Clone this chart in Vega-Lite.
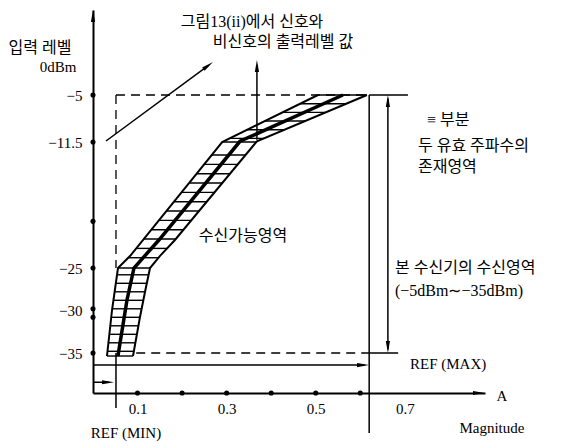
{
  "$schema": "https://vega.github.io/schema/vega-lite/v6.json",
  "width": 392,
  "height": 383,
  "autosize": {"type": "none"},
  "padding": {"left": 93, "top": 10, "right": 76, "bottom": 55},
  "background": "white",
  "config": {"view": {"stroke": null}},
  "datasets": {
    "dashed": [
      {"x": 0.0516, "y": -5, "x2": 0.62, "y2": -5},
      {"x": 0.0516, "y": -5, "x2": 0.0516, "y2": -25},
      {"x": 0.097, "y": -35, "x2": 0.62, "y2": -35}
    ],
    "solid": [
      {"x": 0.62, "y": -5, "x2": 0.62, "y2": -44.3},
      {"x": 0.62, "y": -5, "x2": 0.707, "y2": -5},
      {"x": 0.662, "y": -5.5, "x2": 0.662, "y2": -34.6},
      {"x": 0.62, "y": -35, "x2": 0.685, "y2": -35},
      {"x": 0, "y": -36.4, "x2": 0.61, "y2": -36.4},
      {"x": 0, "y": -38.4, "x2": 0.035, "y2": -38.4},
      {"x": 0.0516, "y": -35, "x2": 0.0516, "y2": -41.4},
      {"x": 0.368, "y": -11.2, "x2": 0.368, "y2": -1.5},
      {"x": 0.0292, "y": -11.36, "x2": 0.2586, "y2": -1.58}
    ],
    "rungs": [
      {"y": -5, "x": 0.505, "x2": 0.615},
      {"y": -6.2, "x": 0.4653, "x2": 0.5687},
      {"y": -7.4, "x": 0.4256, "x2": 0.5224},
      {"y": -8.6, "x": 0.3859, "x2": 0.4761},
      {"y": -9.8, "x": 0.3462, "x2": 0.4298},
      {"y": -11.0, "x": 0.3065, "x2": 0.3835},
      {"y": -11.5, "x": 0.29, "x2": 0.3663},
      {"y": -12.9, "x": 0.2663, "x2": 0.342},
      {"y": -13.9, "x": 0.2494, "x2": 0.3246},
      {"y": -14.9, "x": 0.2324, "x2": 0.3073},
      {"y": -15.9, "x": 0.2155, "x2": 0.2899},
      {"y": -16.9, "x": 0.1986, "x2": 0.2725},
      {"y": -17.9, "x": 0.1816, "x2": 0.2552},
      {"y": -18.9, "x": 0.1647, "x2": 0.2378},
      {"y": -19.9, "x": 0.1478, "x2": 0.2205},
      {"y": -20.9, "x": 0.1309, "x2": 0.2031},
      {"y": -21.9, "x": 0.1139, "x2": 0.1857},
      {"y": -22.9, "x": 0.097, "x2": 0.1662},
      {"y": -23.9, "x": 0.0793, "x2": 0.1469},
      {"y": -25, "x": 0.0561, "x2": 0.128},
      {"y": -25.8, "x": 0.0539, "x2": 0.1248},
      {"y": -26.8, "x": 0.0512, "x2": 0.1208},
      {"y": -27.8, "x": 0.0485, "x2": 0.1168},
      {"y": -28.8, "x": 0.0458, "x2": 0.113},
      {"y": -29.8, "x": 0.0431, "x2": 0.1092},
      {"y": -30.8, "x": 0.0409, "x2": 0.1054},
      {"y": -31.8, "x": 0.0388, "x2": 0.1019},
      {"y": -32.8, "x": 0.0367, "x2": 0.0985},
      {"y": -33.8, "x": 0.0346, "x2": 0.0951},
      {"y": -34.8, "x": 0.0326, "x2": 0.0917},
      {"y": -35.35, "x": 0.0314, "x2": 0.0898}
    ],
    "edges": [
      {"edge": "L", "x": 0.505, "y": -5},
      {"edge": "L", "x": 0.29, "y": -11.5},
      {"edge": "L", "x": 0.0831, "y": -23.72},
      {"edge": "L", "x": 0.0561, "y": -25},
      {"edge": "L", "x": 0.0426, "y": -30},
      {"edge": "L", "x": 0.0314, "y": -35.35},
      {"edge": "R", "x": 0.615, "y": -5},
      {"edge": "R", "x": 0.368, "y": -11.4},
      {"edge": "R", "x": 0.184, "y": -22},
      {"edge": "R", "x": 0.15, "y": -23.72},
      {"edge": "R", "x": 0.128, "y": -25},
      {"edge": "R", "x": 0.1167, "y": -27.82},
      {"edge": "R", "x": 0.1055, "y": -30.76},
      {"edge": "R", "x": 0.0898, "y": -35.35}
    ],
    "center": [
      {"x": 0.561, "y": -5},
      {"x": 0.33, "y": -11.4},
      {"x": 0.148, "y": -22},
      {"x": 0.092, "y": -25},
      {"x": 0.0763, "y": -28.76},
      {"x": 0.056, "y": -35.35}
    ],
    "dots": [
      {"x": 0, "y": -5}, {"x": 0, "y": -11.5}, {"x": 0, "y": -20}, {"x": 0, "y": -25},
      {"x": 0, "y": -29.8}, {"x": 0, "y": -30.8}, {"x": 0, "y": -35},
      {"x": 0.1, "y": -39.65}, {"x": 0.2, "y": -39.65}, {"x": 0.3, "y": -39.65},
      {"x": 0.4, "y": -39.65}, {"x": 0.5, "y": -39.65}, {"x": 0.6, "y": -39.65}
    ],
    "headsUp": [
      {"x": 0, "y": 4.186},
      {"x": 0.368, "y": -1.63},
      {"x": 0.662, "y": -5.83}
    ],
    "headsRight": [
      {"x": 0.8665, "y": -39.65},
      {"x": 0.6061, "y": -36.4},
      {"x": 0.0337, "y": -38.4}
    ],
    "headsDown": [
      {"x": 0.662, "y": -34.29}
    ],
    "headsDiag": [
      {"x": 0.2586, "y": -1.58}
    ],
    "textKorCenter": [
      {"t": "입력 레벨", "x": -0.119, "y": 0.47},
      {"t": "그림13(ii)에서 신호와", "x": 0.357, "y": 3.49},
      {"t": "비신호의 출력레벨 값", "x": 0.4265, "y": 1.16},
      {"t": "수신가능영역", "x": 0.3367, "y": -21.57}
    ],
    "textLatCenter": [
      {"t": "0dBm", "x": -0.0786, "y": -1.74},
      {"t": "REF (MIN)", "x": 0.074, "y": -44.3},
      {"t": "A", "x": 0.918, "y": -40.0},
      {"t": "Magnitude", "x": 0.8956, "y": -43.72}
    ],
    "textKorLeft": [
      {"t": "≡ 부분", "x": 0.7497, "y": -8.46},
      {"t": "두 유효 주파수의", "x": 0.7295, "y": -11.93},
      {"t": "존재영역", "x": 0.7295, "y": -14.18},
      {"t": "본 수신기의 수신영역", "x": 0.678, "y": -25},
      {"t": "(−5dBm∼−35dBm)", "x": 0.678, "y": -27.7}
    ],
    "textLatLeft": [
      {"t": "REF (MAX)", "x": 0.7116, "y": -36.28}
    ]
  },
  "encoding": {
    "x": {
      "field": "x", "type": "quantitative",
      "scale": {"domain": [0, 0.88], "nice": false, "zero": false},
      "axis": {"values": [0.1, 0.3, 0.5, 0.7], "format": ".1f", "ticks": false, "grid": false, "title": null,
        "domainWidth": 2, "domainColor": "black", "labelFont": "Liberation Serif", "labelFontSize": 15,
        "labelColor": "black", "labelPadding": 8, "labelFlush": false}
    },
    "y": {
      "field": "y", "type": "quantitative",
      "scale": {"domain": [-39.65, -35, -25, -11.5, -5, 4.88], "range": [383, 343, 258, 132, 85, 0], "nice": false, "zero": false},
      "axis": {"values": [-5, -11.5, -25, -30, -35], "format": ".1~f", "ticks": false, "grid": false, "title": null,
        "domainWidth": 2, "domainColor": "black", "labelFont": "Liberation Serif", "labelFontSize": 15,
        "labelColor": "black", "labelPadding": 11, "labelFlush": false}
    }
  },
  "layer": [
    {"data": {"name": "dashed"}, "mark": {"type": "rule", "color": "black", "strokeWidth": 1.3, "strokeDash": [9, 6]},
      "encoding": {"x2": {"field": "x2"}, "y2": {"field": "y2"}}},
    {"data": {"name": "solid"}, "mark": {"type": "rule", "color": "black", "strokeWidth": 1.5},
      "encoding": {"x2": {"field": "x2"}, "y2": {"field": "y2"}}},
    {"data": {"name": "rungs"}, "mark": {"type": "rule", "color": "black", "strokeWidth": 1.4},
      "encoding": {"x2": {"field": "x2"}}},
    {"data": {"name": "edges"}, "mark": {"type": "line", "color": "black", "strokeWidth": 2},
      "encoding": {"detail": {"field": "edge"}, "order": {"field": "y", "sort": "descending"}}},
    {"data": {"name": "center"}, "mark": {"type": "line", "color": "black", "strokeWidth": 3.5},
      "encoding": {"order": {"field": "y", "sort": "descending"}}},
    {"data": {"name": "dots"}, "mark": {"type": "point", "filled": true, "color": "black", "size": 26, "opacity": 1}},
    {"data": {"name": "headsUp"}, "mark": {"type": "point", "filled": true, "color": "black", "opacity": 1, "size": 144, "shape": "M0,-1L0.35,1L-0.35,1Z", "angle": 0}},
    {"data": {"name": "headsRight"}, "mark": {"type": "point", "filled": true, "color": "black", "opacity": 1, "size": 144, "shape": "M0,-1L0.35,1L-0.35,1Z", "angle": 90}},
    {"data": {"name": "headsDown"}, "mark": {"type": "point", "filled": true, "color": "black", "opacity": 1, "size": 144, "shape": "M0,-1L0.35,1L-0.35,1Z", "angle": 180}},
    {"data": {"name": "headsDiag"}, "mark": {"type": "point", "filled": true, "color": "black", "opacity": 1, "size": 144, "shape": "M0,-1L0.35,1L-0.35,1Z", "angle": 53.3}},
    {"data": {"name": "textKorCenter"}, "mark": {"type": "text", "align": "center", "baseline": "middle", "font": "'Liberation Serif', 'Noto Sans CJK KR'", "fontSize": 16, "color": "black"},
      "encoding": {"text": {"field": "t"}}},
    {"data": {"name": "textLatCenter"}, "mark": {"type": "text", "align": "center", "baseline": "middle", "font": "'Liberation Serif', 'Noto Sans CJK KR'", "fontSize": 15, "color": "black"},
      "encoding": {"text": {"field": "t"}}},
    {"data": {"name": "textKorLeft"}, "mark": {"type": "text", "align": "left", "baseline": "middle", "font": "'Liberation Serif', 'Noto Sans CJK KR'", "fontSize": 16, "color": "black"},
      "encoding": {"text": {"field": "t"}}},
    {"data": {"name": "textLatLeft"}, "mark": {"type": "text", "align": "left", "baseline": "middle", "font": "'Liberation Serif', 'Noto Sans CJK KR'", "fontSize": 15, "color": "black"},
      "encoding": {"text": {"field": "t"}}}
  ]
}
